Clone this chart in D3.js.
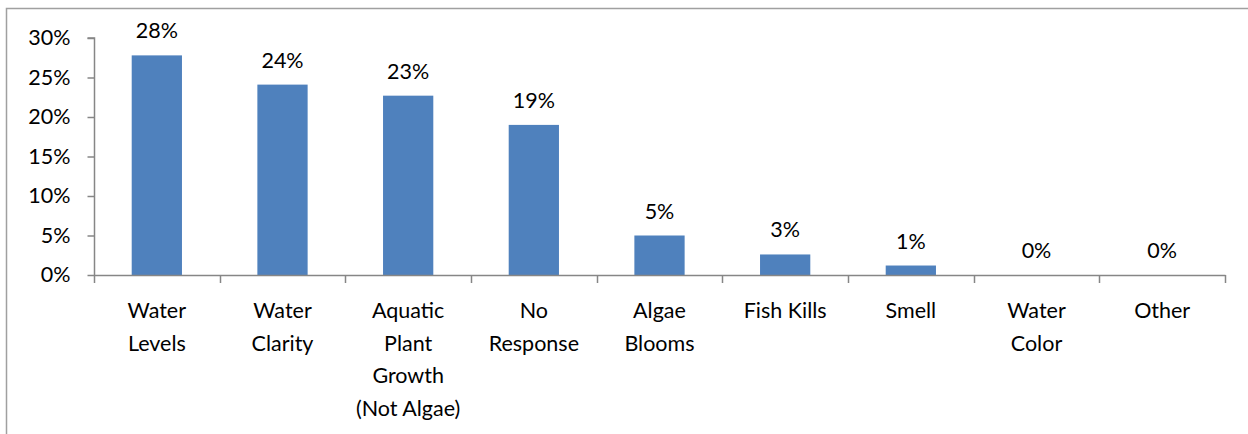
<!DOCTYPE html>
<html>
<head>
  <title>Water concerns</title>
  <script src="https://d3js.org/d3.v7.min.js"></script>
  <style>
    body { margin: 0; background: #fff; }
    text { font-family: Lato, "Open Sans", sans-serif; fill: #000; }
  </style>
</head>
<body>
<script>
// categories (multi-line labels) and shares
var categories = [
  ["Water", "Levels"],
  ["Water", "Clarity"],
  ["Aquatic", "Plant", "Growth", "(Not Algae)"],
  ["No", "Response"],
  ["Algae", "Blooms"],
  ["Fish Kills"],
  ["Smell"],
  ["Water", "Color"],
  ["Other"]
];
var values = [27.8, 24.1, 22.7, 19.0, 5.0, 2.6, 1.2, 0, 0];
var yTicks = [0, 5, 10, 15, 20, 25, 30];

var width = 1248, height = 434;
var plotLeft = 94, plotRight = 1225, plotTop = 38, plotBottom = 275;
var fontSize = "21.5px";

var svg = d3.select("body").append("svg")
  .attr("width", width).attr("height", height);

// outer frame (only top & left edges show in the crop)
svg.append("path")
  .attr("d", "M6.5,434 V8.5 H1248")
  .attr("fill", "none").attr("stroke", "#a0a0a0").attr("stroke-width", 1.5);

var x = d3.scaleBand().domain(d3.range(categories.length))
  .range([plotLeft, plotRight]).paddingInner(0.6).paddingOuter(0.3);
var xb = d3.scaleBand().domain(d3.range(categories.length)).range([plotLeft, plotRight]);
var y = d3.scaleLinear().domain([0, 30]).range([plotBottom, plotTop]);

// bars
svg.selectAll("rect.bar").data(values).enter()
  .append("rect").attr("class", "bar")
  .attr("x", function(d, i) { return x(i); })
  .attr("width", x.bandwidth())
  .attr("y", function(d) { return y(d); })
  .attr("height", function(d) { return plotBottom - y(d); })
  .attr("fill", "#4F81BD");

// y axis
var yAxis = svg.append("g").attr("transform", "translate(" + (plotLeft + 0.5) + ",0)")
  .call(d3.axisLeft(y).tickValues(yTicks).tickSize(7).tickPadding(17)
    .tickFormat(function(d) { return d + "%"; }));
yAxis.selectAll("line, path").attr("stroke", "#868686").attr("stroke-width", 1.5);
yAxis.select("path").attr("d", "M0," + (plotBottom + 0.5) + "V" + plotTop + "H-7");
yAxis.selectAll("text").style("font-size", fontSize).attr("fill", "#000");

// x axis line and boundary ticks
var xg = svg.append("g");
xg.append("line")
  .attr("x1", plotLeft).attr("x2", plotRight + 0.5)
  .attr("y1", plotBottom + 0.5).attr("y2", plotBottom + 0.5)
  .attr("stroke", "#868686").attr("stroke-width", 1.5);
xg.selectAll("line.tick").data(d3.range(categories.length + 1)).enter()
  .append("line").attr("class", "tick")
  .attr("x1", function(d) { return Math.round(plotLeft + d * xb.bandwidth()) + 0.5; })
  .attr("x2", function(d) { return Math.round(plotLeft + d * xb.bandwidth()) + 0.5; })
  .attr("y1", plotBottom).attr("y2", plotBottom + 8)
  .attr("stroke", "#868686").attr("stroke-width", 1.5);

// category labels
svg.selectAll("text.cat").data(categories).enter()
  .append("text").attr("class", "cat")
  .attr("text-anchor", "middle")
  .style("font-size", fontSize)
  .each(function(lines, i) {
    var cx = xb(i) + xb.bandwidth() / 2;
    d3.select(this).selectAll("tspan").data(lines).enter()
      .append("tspan")
      .attr("x", cx)
      .attr("y", function(d, j) { return 318 + j * 32.5; })
      .text(function(d) { return d; });
  });

// value labels
svg.selectAll("text.val").data(values).enter()
  .append("text").attr("class", "val")
  .attr("text-anchor", "middle")
  .style("font-size", fontSize)
  .attr("x", function(d, i) { return x(i) + x.bandwidth() / 2; })
  .attr("y", function(d) { return y(d) - 17; })
  .text(function(d) { return Math.round(d) + "%"; });
</script>
</body>
</html>
